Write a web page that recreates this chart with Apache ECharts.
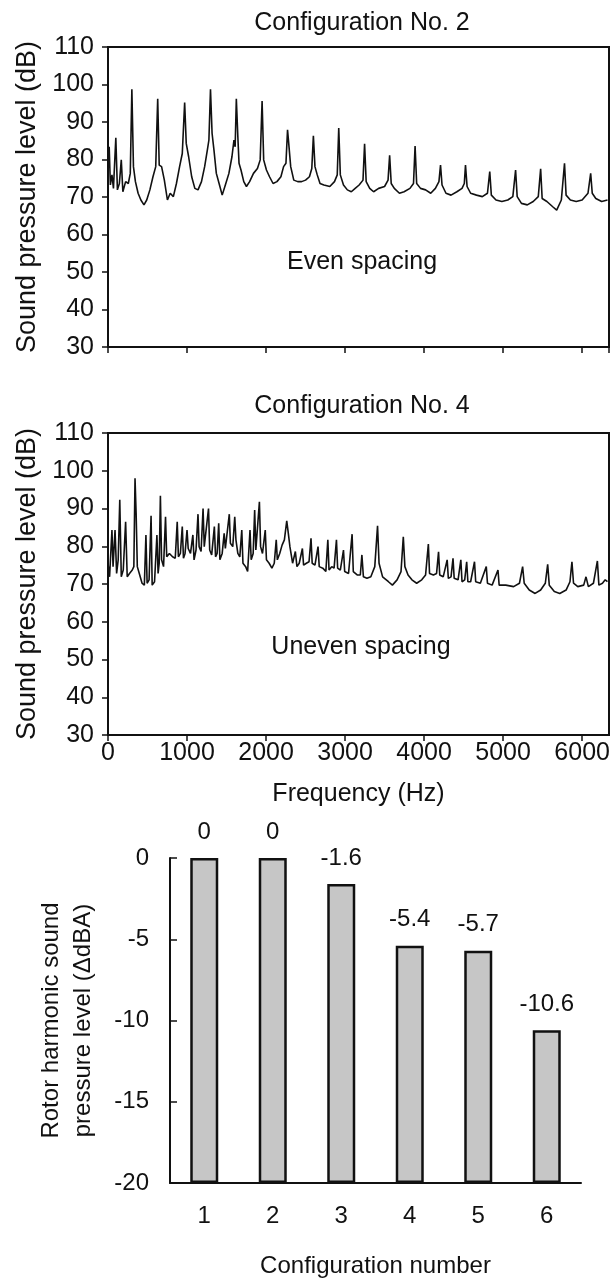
<!DOCTYPE html>
<html>
<head>
<meta charset="utf-8">
<script src="https://cdn.jsdelivr.net/npm/echarts@6/dist/echarts.min.js"></script>
<style>
html, body { margin: 0; padding: 0; background: #fff; }
#chart { width: 615px; height: 1279px; }
</style>
</head>
<body>
<div id="chart"></div>
<script>
// Configuration No. 2, even spacing : [frequency Hz, level dB]
const evenSpectrum = [
  [0,78.1],[15,83.4],[30,73.2],[50,75.9],[69,72.3],[99,85.8],[119,71.9],[144,73.6],[168,79.9],[188,71.4],
  [223,74.1],[257,73.6],[282,76.3],[302,98.7],[322,78.1],[347,74.1],[381,71.0],[416,69.2],[455,67.9],[490,69.2],
  [530,71.9],[569,75.4],[604,78.1],[629,96.2],[648,78.5],[678,78.1],[713,74.5],[752,69.2],[787,71.0],[827,70.1],
  [866,73.6],[906,78.1],[940,81.6],[970,95.2],[990,84.3],[1020,80.8],[1059,75.4],[1099,72.3],[1139,71.9],[1183,74.1],
  [1223,78.1],[1257,82.5],[1277,85.2],[1297,98.7],[1317,87.0],[1341,82.5],[1371,76.3],[1411,73.2],[1445,70.5],[1485,73.2],
  [1530,76.3],[1569,80.8],[1594,85.2],[1609,83.4],[1624,96.2],[1643,86.1],[1658,79.0],[1683,77.2],[1718,74.1],[1752,72.8],
  [1792,74.1],[1841,76.3],[1891,77.6],[1926,79.9],[1950,95.6],[1970,79.9],[2005,77.2],[2044,75.4],[2089,73.6],[2138,74.1],
  [2188,75.4],[2222,78.1],[2252,79.0],[2272,87.9],[2287,84.3],[2312,78.1],[2351,74.5],[2401,74.1],[2450,74.1],[2500,74.5],
  [2549,75.4],[2579,77.6],[2599,86.3],[2619,78.1],[2648,75.9],[2683,73.6],[2732,73.2],[2807,72.8],[2866,74.1],[2901,75.9],
  [2920,88.4],[2940,75.9],[2980,73.2],[3029,71.9],[3079,71.4],[3128,72.3],[3178,73.2],[3227,74.5],[3247,84.2],[3267,74.1],
  [3312,72.3],[3361,71.4],[3425,72.3],[3500,72.8],[3544,74.5],[3564,81.1],[3584,73.6],[3623,72.3],[3688,71.0],[3747,71.4],
  [3821,72.3],[3866,73.6],[3886,83.6],[3906,73.6],[3955,72.3],[4019,71.9],[4084,71.0],[4143,72.3],[4188,74.1],[4208,78.5],
  [4227,73.2],[4277,71.0],[4341,70.5],[4415,71.4],[4480,72.3],[4509,73.6],[4524,78.5],[4544,72.8],[4589,71.0],[4663,70.5],
  [4737,70.1],[4802,71.0],[4831,76.8],[4851,70.5],[4910,69.2],[4984,68.8],[5059,69.2],[5123,70.1],[5158,77.2],[5178,70.1],
  [5232,68.3],[5306,67.9],[5381,68.8],[5445,70.1],[5475,77.5],[5494,69.6],[5554,68.8],[5628,67.4],[5678,66.5],[5737,69.2],
  [5777,79.0],[5797,70.5],[5851,69.2],[5925,68.8],[6000,69.2],[6074,71.0],[6108,76.3],[6128,71.0],[6173,69.6],[6247,68.8],
  [6321,69.2]
];

// Configuration No. 4, uneven spacing : [frequency Hz, level dB]
const unevenSpectrum = [
  [0,75.5],[20,71.9],[50,84.3],[64,74.6],[89,84.3],[109,72.8],[129,76.4],[149,92.3],[168,71.9],[193,73.7],
  [223,86.5],[243,71.9],[272,72.8],[307,73.7],[327,74.6],[342,98.0],[356,88.7],[371,74.6],[396,72.8],[431,70.2],
  [460,69.7],[480,83.0],[495,70.2],[520,71.1],[545,88.1],[559,69.7],[589,70.6],[619,83.0],[634,72.8],[648,75.5],
  [663,93.4],[678,76.4],[703,74.6],[728,87.8],[743,77.2],[777,78.1],[817,77.2],[851,76.8],[876,86.5],[891,77.2],
  [916,78.1],[940,85.2],[955,76.8],[975,78.1],[1000,84.3],[1015,79.4],[1044,78.1],[1074,83.0],[1089,76.4],[1114,79.0],
  [1139,88.5],[1153,79.9],[1178,78.6],[1203,90.0],[1218,79.9],[1242,79.4],[1272,90.0],[1287,79.0],[1312,77.7],[1346,85.2],
  [1361,77.2],[1381,78.1],[1401,86.1],[1416,76.4],[1445,78.1],[1470,83.4],[1485,79.4],[1510,79.9],[1535,88.5],[1549,80.8],
  [1579,79.9],[1604,87.8],[1619,81.7],[1643,78.1],[1668,77.2],[1693,84.3],[1708,75.5],[1742,74.6],[1767,73.3],[1797,84.3],
  [1812,76.4],[1837,78.1],[1856,89.6],[1871,79.0],[1896,78.6],[1916,91.8],[1931,79.9],[1955,78.1],[1990,84.3],[2005,76.4],
  [2039,75.5],[2074,74.2],[2104,75.5],[2129,81.7],[2143,76.4],[2173,78.1],[2203,80.3],[2232,81.7],[2262,86.7],[2282,83.4],
  [2302,79.9],[2336,75.5],[2371,78.6],[2391,74.6],[2420,75.5],[2460,79.4],[2475,75.0],[2510,75.5],[2544,75.9],[2569,82.1],
  [2584,75.5],[2619,75.0],[2658,79.9],[2673,74.6],[2718,74.2],[2757,73.3],[2782,81.7],[2797,73.7],[2831,74.6],[2861,74.2],
  [2891,81.7],[2906,74.2],[2940,73.7],[2980,79.0],[2995,73.3],[3044,72.8],[3089,83.2],[3104,73.3],[3153,72.4],[3193,72.4],
  [3213,77.7],[3232,71.9],[3277,71.5],[3326,71.9],[3376,74.6],[3411,85.4],[3430,75.5],[3475,71.9],[3549,70.6],[3599,69.7],
  [3658,71.1],[3708,73.3],[3737,82.5],[3757,74.6],[3797,72.4],[3846,71.1],[3906,70.2],[3970,71.1],[4019,72.4],[4054,80.6],
  [4069,72.8],[4118,72.4],[4158,72.8],[4183,78.5],[4198,72.4],[4242,71.9],[4292,76.4],[4307,71.5],[4341,71.9],[4366,76.8],
  [4381,71.5],[4430,71.1],[4465,76.4],[4480,70.6],[4514,71.1],[4539,75.9],[4554,70.6],[4589,70.6],[4638,75.9],[4653,70.6],
  [4712,70.2],[4787,74.6],[4802,70.2],[4861,69.7],[4935,73.7],[4950,69.7],[5034,69.7],[5133,69.3],[5207,70.2],[5247,74.6],
  [5267,70.2],[5331,68.4],[5405,67.5],[5475,68.4],[5534,70.2],[5564,75.2],[5584,69.7],[5648,68.0],[5717,67.5],[5797,68.4],
  [5846,70.6],[5871,75.9],[5891,70.2],[5945,69.3],[6020,69.7],[6049,71.9],[6079,69.3],[6143,70.2],[6193,76.1],[6212,69.7],
  [6257,70.2],[6292,71.1],[6321,70.6]
];

// rotor harmonic level per configuration (dBA, relative)
const configNumbers = ['1', '2', '3', '4', '5', '6'];
const configLevels = [0, 0, -1.6, -5.4, -5.7, -10.6];
const levelMin = -20;

const font = '"Liberation Sans", Arial, Helvetica, sans-serif';
const ink = '#111';

let textStyle = function(size) {
  return { color: ink, fontSize: size, fontFamily: font, fontWeight: 'normal' };
};

// spectrum x axis (frequency)
let freqAxis = function(gridIndex, withLabels) {
  return {
    type: 'value',
    gridIndex: gridIndex,
    min: 0,
    max: 6340,
    interval: 1000,
    axisLine: { show: true, onZero: false, lineStyle: { color: ink, width: 2 } },
    axisTick: { show: true, inside: false, length: 6, lineStyle: { color: ink, width: 1.5 } },
    axisLabel: Object.assign({
      show: withLabels,
      margin: 6,
      showMaxLabel: false,
      formatter: function(v) { return v % 1000 === 0 ? String(v) : ''; }
    }, textStyle(25)),
    splitLine: { show: false },
    name: withLabels ? 'Frequency (Hz)' : '',
    nameLocation: 'middle',
    nameGap: 47,
    nameTextStyle: textStyle(25)
  };
};

// spectrum y axis (dB)
let levelAxis = function(gridIndex) {
  return {
    type: 'value',
    gridIndex: gridIndex,
    min: 30,
    max: 110,
    interval: 10,
    axisLine: { show: true, onZero: false, lineStyle: { color: ink, width: 2 } },
    axisTick: { show: true, inside: false, length: 6, lineStyle: { color: ink, width: 1.5 } },
    axisLabel: Object.assign({ margin: 14 }, textStyle(25)),
    splitLine: { show: false },
    name: 'Sound pressure level (dB)',
    nameLocation: 'middle',
    nameGap: 64,
    nameTextStyle: textStyle(27)
  };
};

let spectrumSeries = function(index, data) {
  return {
    type: 'line',
    xAxisIndex: index,
    yAxisIndex: index,
    data: data,
    symbol: 'none',
    showSymbol: false,
    lineStyle: { color: ink, width: 1.6 },
    silent: true
  };
};

const chart = echarts.init(document.getElementById('chart'));
chart.setOption({
  animation: false,
  backgroundColor: '#fff',
  title: [
    { text: 'Configuration No. 2', left: 362, top: 11, textAlign: 'center', padding: 0, textStyle: textStyle(25) },
    { text: 'Configuration No. 4', left: 362, top: 394, textAlign: 'center', padding: 0, textStyle: textStyle(25) }
  ],
  graphic: [
    { type: 'text', x: 362, y: 262, style: { text: 'Even spacing', fill: ink, font: '25px ' + font, align: 'center', verticalAlign: 'middle' } },
    { type: 'text', x: 361, y: 647, style: { text: 'Uneven spacing', fill: ink, font: '25px ' + font, align: 'center', verticalAlign: 'middle' } }
  ],
  grid: [
    { left: 108, top: 47, width: 501, height: 300, show: true, borderColor: ink, borderWidth: 2, containLabel: false },
    { left: 108, top: 433, width: 501, height: 302, show: true, borderColor: ink, borderWidth: 2, containLabel: false },
    { left: 170, top: 858, width: 411, height: 327, containLabel: false }
  ],
  xAxis: [
    freqAxis(0, false),
    freqAxis(1, true),
    {
      type: 'category',
      gridIndex: 2,
      data: configNumbers,
      boundaryGap: true,
      axisLine: { show: true, onZero: false, lineStyle: { color: ink, width: 2 } },
      axisTick: { show: false },
      axisLabel: Object.assign({ margin: 21 }, textStyle(24)),
      name: 'Configuration number',
      nameLocation: 'middle',
      nameGap: 71,
      nameTextStyle: textStyle(24)
    }
  ],
  yAxis: [
    levelAxis(0),
    levelAxis(1),
    {
      type: 'value',
      gridIndex: 2,
      min: levelMin,
      max: 0,
      interval: 5,
      axisLine: { show: true, lineStyle: { color: ink, width: 2 } },
      axisTick: { show: true, inside: true, length: 7, lineStyle: { color: ink, width: 1.5 } },
      axisLabel: Object.assign({ margin: 21 }, textStyle(24)),
      splitLine: { show: false },
      name: 'Rotor harmonic sound\npressure level (\u0394dBA)',
      nameLocation: 'middle',
      nameGap: 71,
      nameTextStyle: Object.assign({ lineHeight: 32 }, textStyle(24))
    }
  ],
  series: [
    spectrumSeries(0, evenSpectrum),
    spectrumSeries(1, unevenSpectrum),
    {
      // invisible part from 0 down to the level
      type: 'bar',
      xAxisIndex: 2,
      yAxisIndex: 2,
      stack: 'level',
      barWidth: 28,
      data: configLevels,
      itemStyle: { color: 'rgba(0,0,0,0)' },
      silent: true
    },
    {
      // visible bar from the level down to the axis floor
      type: 'bar',
      xAxisIndex: 2,
      yAxisIndex: 2,
      stack: 'level',
      barWidth: 28,
      data: configLevels.map(function(v) { return levelMin - v; }),
      itemStyle: { color: '#c6c6c6', borderColor: ink, borderWidth: 2.5 },
      label: Object.assign({
        show: true,
        position: 'top',
        distance: 14,
        formatter: function(p) { return String(configLevels[p.dataIndex]); }
      }, textStyle(24)),
      silent: true
    }
  ]
});
</script>
</body>
</html>
